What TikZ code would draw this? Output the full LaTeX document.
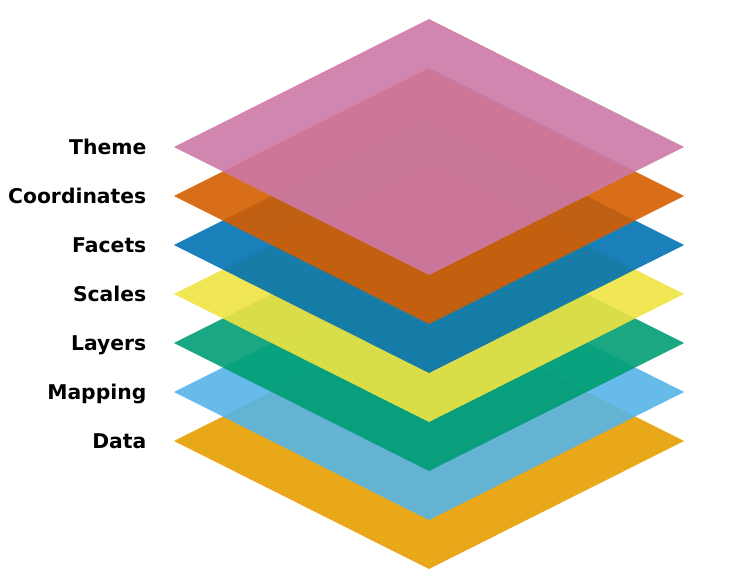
\documentclass[tikz,border=0pt]{standalone}
\usepackage{fontspec}
\setmainfont{DejaVu Sans}
\definecolor{cData}{HTML}{E69F00}
\definecolor{cMapping}{HTML}{56B4E9}
\definecolor{cLayers}{HTML}{009E73}
\definecolor{cScales}{HTML}{F0E442}
\definecolor{cFacets}{HTML}{0072B2}
\definecolor{cCoord}{HTML}{D55E00}
\definecolor{cTheme}{HTML}{CC79A7}
\tikzset{
  layerlabel/.style={anchor=base east, inner sep=0pt, font=\fontsize{20.4}{24}\selectfont\bfseries, text=black},
  sheet/.style={fill opacity=0.9, draw=none}
}
\newcommand{\sheetat}[2]{%
  \fill[sheet, fill=#2] (429,#1-128) -- (684,#1) -- (429,#1+128) -- (174,#1) -- cycle;}
\begin{document}
\begin{tikzpicture}[x=1bp,y=-1bp]
\useasboundingbox (0,0) rectangle (740,575);
\sheetat{441}{cData}
\sheetat{392}{cMapping}
\sheetat{343}{cLayers}
\sheetat{294}{cScales}
\sheetat{245}{cFacets}
\sheetat{196}{cCoord}
\sheetat{147}{cTheme}
\node[layerlabel] (theme) at (146.5,154.8) {Theme};
\node[layerlabel] (coord) at (146.5,203.8) {Coordinates};
\node[layerlabel] (facets) at (146.5,252.8) {Facets};
\node[layerlabel] (scales) at (146.5,301.8) {Scales};
\node[layerlabel] (layers) at (146.5,350.8) {Layers};
\node[layerlabel] (mapping) at (146.5,399.8) {Mapping};
\node[layerlabel] (data) at (146.5,448.8) {Data};
\end{tikzpicture}
\end{document}
